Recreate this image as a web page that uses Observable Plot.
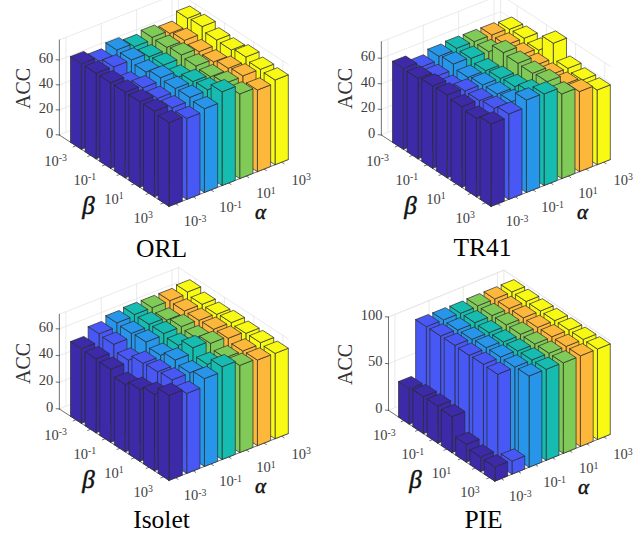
<!DOCTYPE html>
<html><head><meta charset="utf-8">
<script src="https://cdn.jsdelivr.net/npm/d3@7"></script>
<script src="https://cdn.jsdelivr.net/npm/@observablehq/plot@0.6"></script>
<style>
html,body{margin:0;padding:0;background:#fff;overflow:hidden}
#root{position:relative;width:641px;height:533px}
#root svg{position:absolute;display:block;background:transparent}
</style></head><body><div id="root"></div>
<script>
const alphaColors = ["#3c2aa8","#4858f5","#2796ea","#17bcb0","#80ca57","#fdb73a","#f8fa14"];
const paramTicks = ["10^-3","10^-1","10^1","10^3"];
const orl = [
 [68.5,68.5,68.5,68.5,68.5,68.5,67],
 [65,68,62,66.5,65.6,65.7,64.8],
 [68.4,68,66,69,68,68.5,67],
 [65.5,65,66,64,68,69,75],
 [67.4,67,68.5,67.3,66.3,68.6,67.7],
 [65,67,65.6,65,67.5,69,65.3],
 [71.5,72.5,69.4,69,71,68.7,67.8]];
const tr41 = [
 [63.4,63,64.5,64.9,63.2,61.5,64.5],
 [59,59,58,62.6,62.5,63.9,66.9],
 [62,63.4,60.4,61.9,62.2,63.7,72.4],
 [62.8,62.4,60.2,61.6,62.6,66,71.7],
 [62.6,62.2,68.9,68,67.6,68.5,66.3],
 [62.4,62,61.6,61,60.8,61,62.7],
 [61.4,61.8,60,72.8,60.6,58.9,58.5]];
const isolet = [
 [56,55.6,54.8,50.6,54,57.4,63.7],
 [62,61.2,56.5,61.2,62,63,60],
 [65,64.2,64.9,62,65.6,63.2,65.9],
 [66,65.8,66,64.3,69.6,64.3,69.6],
 [66,63.8,66,64.8,67.7,64,65.4],
 [66,65.4,65.5,65.9,66.3,63.9,64.2],
 [67.3,65.2,64.8,65.7,64.8,64.9,64]];
const pie = [
 [38,39.6,39.8,38.6,19,15.7,15.2],
 [97,97.2,97.4,96.9,97.4,96.9,14],
 [96.8,96.2,96.4,97.6,97.8,97.3,97.8],
 [96.5,96.6,96.1,96.3,96.8,97.4,97.5],
 [97,96.8,97,97.1,96.9,97.2,97],
 [97,96.9,97.1,97,97.2,97,97.1],
 [97.1,97,97,96.9,97,97.1,97]];

const panels = [
 {name:"ORL",values:orl,left:0,top:0,O:[82.1,142.7],A:[17.67,-6.94],B:[14.6,9.5],k:1.25,zMax:76,zTicks:[0,20,40,60],bMin:-1.14,title:[161,248],acc:[23,88],al:[260,212],be:[88,205]},
 {name:"TR41",values:tr41,left:320,top:0,O:[84.1,142.7],A:[17.67,-6.94],B:[14.6,9.5],k:1.277,zMax:73,zTicks:[0,20,40,60],bMin:-1.14,title:[162,247],acc:[25,88],al:[262,212],be:[90,205]},
 {name:"Isolet",values:isolet,left:0,top:266,O:[82.1,150.7],A:[17.67,-6.94],B:[14.6,9.5],k:1.333,zMax:71,zTicks:[0,20,40,60],bMin:-1.14,title:[161,253],acc:[23,97],al:[260,220],be:[88,213]},
 {name:"PIE",values:pie,left:320,top:266,O:[89.8,151.5],A:[17.1,-6.94],B:[14.27,9.5],k:0.933,zMax:100,zTicks:[0,50,100],bMin:-1.08,title:[163,253],acc:[25,98],al:[263,221],be:[95,213]}
];
const hw = 0.375;
function draw(p){
  const P = (a,b,z=0)=>({x:p.O[0]+a*p.A[0]+b*p.B[0], y:p.O[1]+a*p.A[1]+b*p.B[1]-z*p.k});
  const aMin=-hw, aMax=6+hw, bMin=p.bMin, bMax=6+hw;
  const faces=[];
  for(let a=6;a>=0;a--) for(let b=0;b<7;b++){
    const z=p.values[a][b], a0=a-hw,a1=a+hw,b0=b-hw,b1=b+hw;
    const polys=[
      [[a0,b1,0],[a1,b1,0],[a1,b1,z],[a0,b1,z]],
      [[a0,b0,0],[a0,b1,0],[a0,b1,z],[a0,b0,z]],
      [[a0,b0,z],[a1,b0,z],[a1,b1,z],[a0,b1,z]]
    ];
    polys.forEach((q,f)=>{[...q,q[0]].forEach(v=>faces.push({...P(...v),id:`${a}-${b}-${f}`,alpha:a}));});
  }
  const seg=(arr,id,p0,p1)=>{arr.push({...P(...p0),id},{...P(...p1),id});};
  const grid=[],axes=[];
  for(const z of p.zTicks){
    grid.push({...P(aMin,bMin,z),id:"z"+z},{...P(aMax,bMin,z),id:"z"+z},{...P(aMax,bMax,z),id:"z"+z});
    seg(axes,"zt"+z,[aMin,bMin,z],[aMin-0.1,bMin-0.1,z]);
  }
  for(const i of [0,2,4,6]){
    grid.push({...P(i,bMin,0),id:"a"+i},{...P(i,bMin,p.zMax),id:"a"+i});
    grid.push({...P(aMax,i,0),id:"b"+i},{...P(aMax,i,p.zMax),id:"b"+i});
  }
  seg(grid,"c1",[aMax,bMin,0],[aMax,bMin,p.zMax]);
  seg(grid,"w1",[aMin,bMin,p.zMax],[aMax,bMin,p.zMax]);
  seg(grid,"w2",[aMax,bMin,p.zMax],[aMax,bMax,p.zMax]);
  seg(axes,"az",[aMin,bMin,0],[aMin,bMin,p.zMax]);
  seg(axes,"ab",[aMin,bMin,0],[aMin,bMax,0]);
  seg(axes,"aa",[aMin,bMax,0],[aMax,bMax,0]);
  for(let i=0;i<7;i++){
    seg(axes,"tb"+i,[aMin,i,0],[aMin-0.16,i,0]);
    seg(axes,"ta"+i,[i,bMax,0],[i,bMax+0.16,0]);
  }
  const idx=[0,2,4,6];
  const zLabels=p.zTicks.map(z=>({...P(aMin,bMin,z),t:String(z)}));
  const bLabels=paramTicks.map((t,i)=>({...P(-1.91,idx[i]+0.466,0),t}));
  const aLabels=paramTicks.map((t,i)=>({...P(idx[i]-0.28,8.05,0),t}));
  const font="Liberation Serif";
  const svg=Plot.plot({
    width:320,height:267,margin:0,
    x:{domain:[0,320],range:[0,320],axis:null},
    y:{domain:[0,267],range:[0,267],axis:null},
    color:{type:"ordinal",domain:d3.range(7),range:alphaColors},
    style:{background:"transparent"},
    marks:[
      Plot.line(grid,{x:"x",y:"y",z:"id",stroke:"#e4e4e4",strokeWidth:0.8}),
      Plot.line(axes,{x:"x",y:"y",z:"id",stroke:"#333",strokeWidth:0.7}),
      Plot.line(faces,{x:"x",y:"y",z:"id",fill:"alpha",stroke:"#2a2a2a",strokeWidth:0.7,strokeLinejoin:"round"}),
      Plot.text(zLabels,{x:"x",y:"y",text:"t",dx:-6,dy:-2,textAnchor:"end",fontSize:14.5,fontFamily:font,fill:"#404040"}),
      Plot.text(bLabels,{x:"x",y:"y",text:"t",fontSize:14.5,fontFamily:font,fill:"#404040"}),
      Plot.text(aLabels,{x:"x",y:"y",text:"t",fontSize:14.5,fontFamily:font,fill:"#404040"}),
      Plot.text(["ACC"],{x:()=>p.acc[0],y:()=>p.acc[1],rotate:-90,fontSize:20,fontFamily:font,fill:"#333"}),
      Plot.text(["α"],{x:()=>p.al[0],y:()=>p.al[1],fontSize:21,fontFamily:font,fontStyle:"italic",fill:"#111",stroke:"#111",strokeWidth:0.5}),
      Plot.text(["β"],{x:()=>p.be[0],y:()=>p.be[1],fontSize:25,fontFamily:font,fontStyle:"italic",fill:"#111",stroke:"#111",strokeWidth:0.5}),
      Plot.text([p.name],{x:()=>p.title[0],y:()=>p.title[1],fontSize:25.5,fontFamily:font,fill:"#000"})
    ]
  });
  d3.select(svg).selectAll("text").each(function(){
    const node=d3.select(this), s=node.text();
    if(s.includes("^")){
      const [m,e]=s.split("^");
      node.text(null);
      node.append("tspan").text(m);
      node.append("tspan").attr("dy","-0.45em").attr("font-size","0.68em").text(e);
    }
  });
  svg.style.left=p.left+"px"; svg.style.top=p.top+"px";
  document.getElementById("root").appendChild(svg);
}
panels.forEach(draw);
</script></body></html>
